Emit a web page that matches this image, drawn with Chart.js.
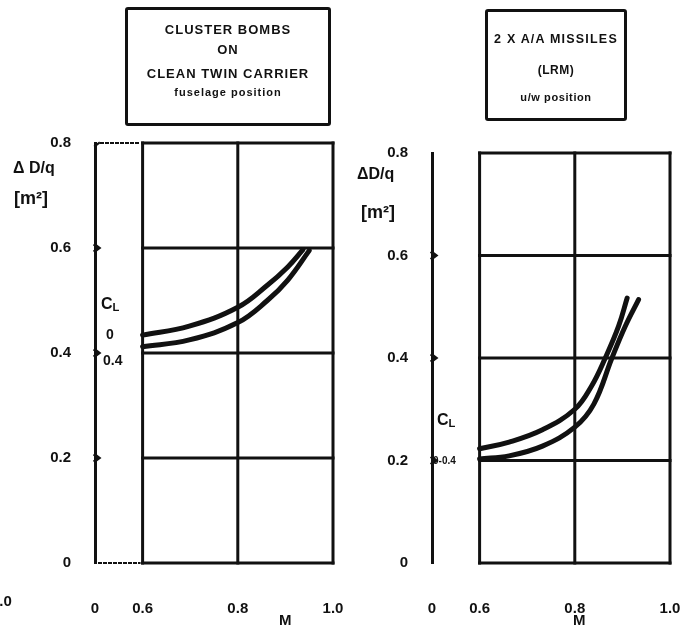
<!DOCTYPE html>
<html>
<head>
<meta charset="utf-8">
<script src="https://cdn.jsdelivr.net/npm/chart.js@4.4.1/dist/chart.umd.min.js"></script>
<style>
  html, body { margin: 0; padding: 0; background: #fff; }
  #wrap { position: relative; width: 690px; height: 632px; overflow: hidden; font-family: "Liberation Sans", Arial, sans-serif; font-weight: bold; color: #111; }
  canvas { position: absolute; left: 0; top: 0; }
  .txt { position: absolute; white-space: nowrap; line-height: 1; }
  .box { position: absolute; border: 3px solid #111; border-radius: 3px; box-sizing: border-box; text-align: center; }
  .box div { position: absolute; left: 0; right: 0; white-space: nowrap; line-height: 1; }
  sub { font-size: 0.7em; vertical-align: -0.2em; }
</style>
</head>
<body>
<div id="wrap">
  <canvas id="left" width="690" height="632"></canvas>
  <canvas id="right" width="690" height="632"></canvas>

  <div class="box" style="left:125px; top:7px; width:206px; height:119px;">
    <div style="top:13px; font-size:13px; letter-spacing:1px;">CLUSTER BOMBS</div>
    <div style="top:33px; font-size:13px; letter-spacing:1px;">ON</div>
    <div style="top:57px; font-size:13px; letter-spacing:1px;">CLEAN TWIN CARRIER</div>
    <div style="top:77px; font-size:11px; letter-spacing:1px;">fuselage position</div>
  </div>
  <div class="box" style="left:485px; top:9px; width:142px; height:112px;">
    <div style="top:21px; font-size:12.5px; letter-spacing:1.2px;">2 X A/A MISSILES</div>
    <div style="top:52px; font-size:12px; letter-spacing:0.5px;">(LRM)</div>
    <div style="top:80px; font-size:11px; letter-spacing:0.6px;">u/w position</div>
  </div>

  <div class="txt" style="left:13px; top:160px; font-size:16px;">&Delta; D/q</div>
  <div class="txt" style="left:14px; top:189px; font-size:18px;">[m&sup2;]</div>
  <div class="txt" style="left:357px; top:166px; font-size:16px;">&Delta;D/q</div>
  <div class="txt" style="left:361px; top:203px; font-size:18px;">[m&sup2;]</div>

  <div class="txt" style="left:101px; top:296px; font-size:16px;">C<sub>L</sub></div>
  <div class="txt" style="left:106px; top:327px; font-size:14px;">0</div>
  <div class="txt" style="left:103px; top:353px; font-size:14px;">0.4</div>
  <div class="txt" style="left:437px; top:412px; font-size:16px;">C<sub>L</sub></div>
  <div class="txt" style="left:433px; top:456px; font-size:10px;">0-0.4</div>

  <div class="txt" style="left:279px; top:612px; font-size:15px;">M</div>
  <div class="txt" style="left:573px; top:612px; font-size:15px;">M</div>
  <div class="txt" style="left:-9px; top:593px; font-size:15px;">1.0</div>
</div>

<script>
// tick values / labels
const xTicks = [0.5, 0.6, 0.8, 1.0];
const xLabels = ["0", "0.6", "0.8", "1.0"];
const yTicks = [0, 0.2, 0.4, 0.6, 0.8];
const yLabels = ["0", "0.2", "0.4", "0.6", "0.8"];
const gridX = [0.6, 0.8, 1.0];

// cluster bombs, C_L = 0 and C_L = 0.4
const mLeftUpper = [0.6, 0.698, 0.8, 0.862, 0.905, 0.937];
const dLeftUpper = [0.434, 0.451, 0.487, 0.529, 0.564, 0.597];
const mLeftLower = [0.6, 0.698, 0.8, 0.862, 0.905, 0.95];
const dLeftLower = [0.412, 0.425, 0.458, 0.5, 0.539, 0.595];

// A/A missiles, C_L = 0 and C_L = 0.4
const mRightUpper = [0.6, 0.662, 0.732, 0.8, 0.835, 0.864, 0.892, 0.91];
const dRightUpper = [0.223, 0.236, 0.26, 0.3, 0.345, 0.4, 0.462, 0.517];
const mRightLower = [0.6, 0.662, 0.732, 0.8, 0.84, 0.878, 0.906, 0.934];
const dRightLower = [0.203, 0.209, 0.228, 0.265, 0.31, 0.4, 0.462, 0.514];

const INK = "#111";
const tickFont = { family: "'Liberation Sans', Arial, sans-serif", size: 15, weight: "bold" };

function pts(xs, ys) {
  return xs.map((x, i) => ({ x, y: ys[i] }));
}

// draws the framed grid box, inward tick nubs and the dotted links
const frame = {
  id: "frame",
  beforeDatasetsDraw(chart, args, opts) {
    const { ctx, scales: { x, y } } = chart;
    const xl = x.getPixelForValue(0.6), xr = x.getPixelForValue(1.0);
    const yt = y.getPixelForValue(0.8), yb = y.getPixelForValue(0);
    const ax = x.getPixelForValue(xTicks[0]);
    ctx.save();
    ctx.strokeStyle = INK;
    ctx.lineWidth = 3;
    ctx.lineCap = "square";
    gridX.forEach((v) => {
      const px = x.getPixelForValue(v);
      ctx.beginPath(); ctx.moveTo(px, yt); ctx.lineTo(px, yb); ctx.stroke();
    });
    yTicks.forEach((v) => {
      const py = y.getPixelForValue(v);
      ctx.beginPath(); ctx.moveTo(xl, py); ctx.lineTo(xr, py); ctx.stroke();
    });
    // little tick nubs on the axis
    yTicks.slice(1, -1).forEach((v) => {
      const py = y.getPixelForValue(v);
      ctx.beginPath(); ctx.moveTo(ax, py - 3); ctx.lineTo(ax + 4, py); ctx.lineTo(ax, py + 3); ctx.stroke();
    });
    if (opts.dotted) {
      ctx.lineWidth = 2;
      ctx.setLineDash([2, 3]);
      ctx.beginPath(); ctx.moveTo(ax + 6, yt); ctx.lineTo(xl - 3, yt); ctx.stroke();
      ctx.beginPath(); ctx.moveTo(ax + 4, yb); ctx.lineTo(xl - 3, yb); ctx.stroke();
      ctx.setLineDash([]);
      ctx.beginPath(); ctx.moveTo(ax, yt + 3); ctx.lineTo(ax + 4, yt); ctx.stroke();
    }
    ctx.restore();
  }
};

function makeChart(id, area, upper, lower, dotted) {
  const c = document.getElementById(id);
  return new Chart(c, {
    type: "line",
    data: {
      datasets: [
        { label: "CL 0", data: upper },
        { label: "CL 0.4", data: lower }
      ]
    },
    options: {
      responsive: false,
      animation: false,
      events: [],
      layout: { padding: { left: 0, top: area.top, right: 690 - area.right, bottom: 0 } },
      elements: {
        line: { borderColor: INK, borderWidth: 5, tension: 0.4, fill: false, borderCapStyle: "round" },
        point: { radius: 0 }
      },
      plugins: { legend: { display: false }, tooltip: { enabled: false }, frame: { dotted } },
      scales: {
        x: {
          type: "linear",
          min: 0.5,
          max: 1.0,
          grid: { display: false },
          border: { display: false },
          afterBuildTicks: (s) => { s.ticks = xTicks.map((v) => ({ value: v })); },
          afterFit: (s) => {
            s.height = 632 - area.bottom;
            s.paddingLeft = 0;
            s.paddingRight = 0;
          },
          ticks: {
            color: INK,
            font: tickFont,
            padding: 29,
            maxRotation: 0,
            autoSkip: false,
            callback: (v) => xLabels[xTicks.indexOf(v)]
          }
        },
        y: {
          type: "linear",
          min: 0,
          max: 0.8,
          grid: { display: false },
          border: { display: true, color: INK, width: 3 },
          afterBuildTicks: (s) => { s.ticks = yTicks.map((v) => ({ value: v })); },
          afterFit: (s) => { s.width = area.left; },
          ticks: {
            color: INK,
            font: tickFont,
            padding: 16,
            callback: (v) => yLabels[yTicks.indexOf(v)]
          }
        }
      }
    },
    plugins: [frame]
  });
}

makeChart("left", { left: 95, right: 333, top: 143, bottom: 563 },
  pts(mLeftUpper, dLeftUpper), pts(mLeftLower, dLeftLower), true);
makeChart("right", { left: 432, right: 670, top: 153, bottom: 563 },
  pts(mRightUpper, dRightUpper), pts(mRightLower, dRightLower), false);
</script>
</body>
</html>
